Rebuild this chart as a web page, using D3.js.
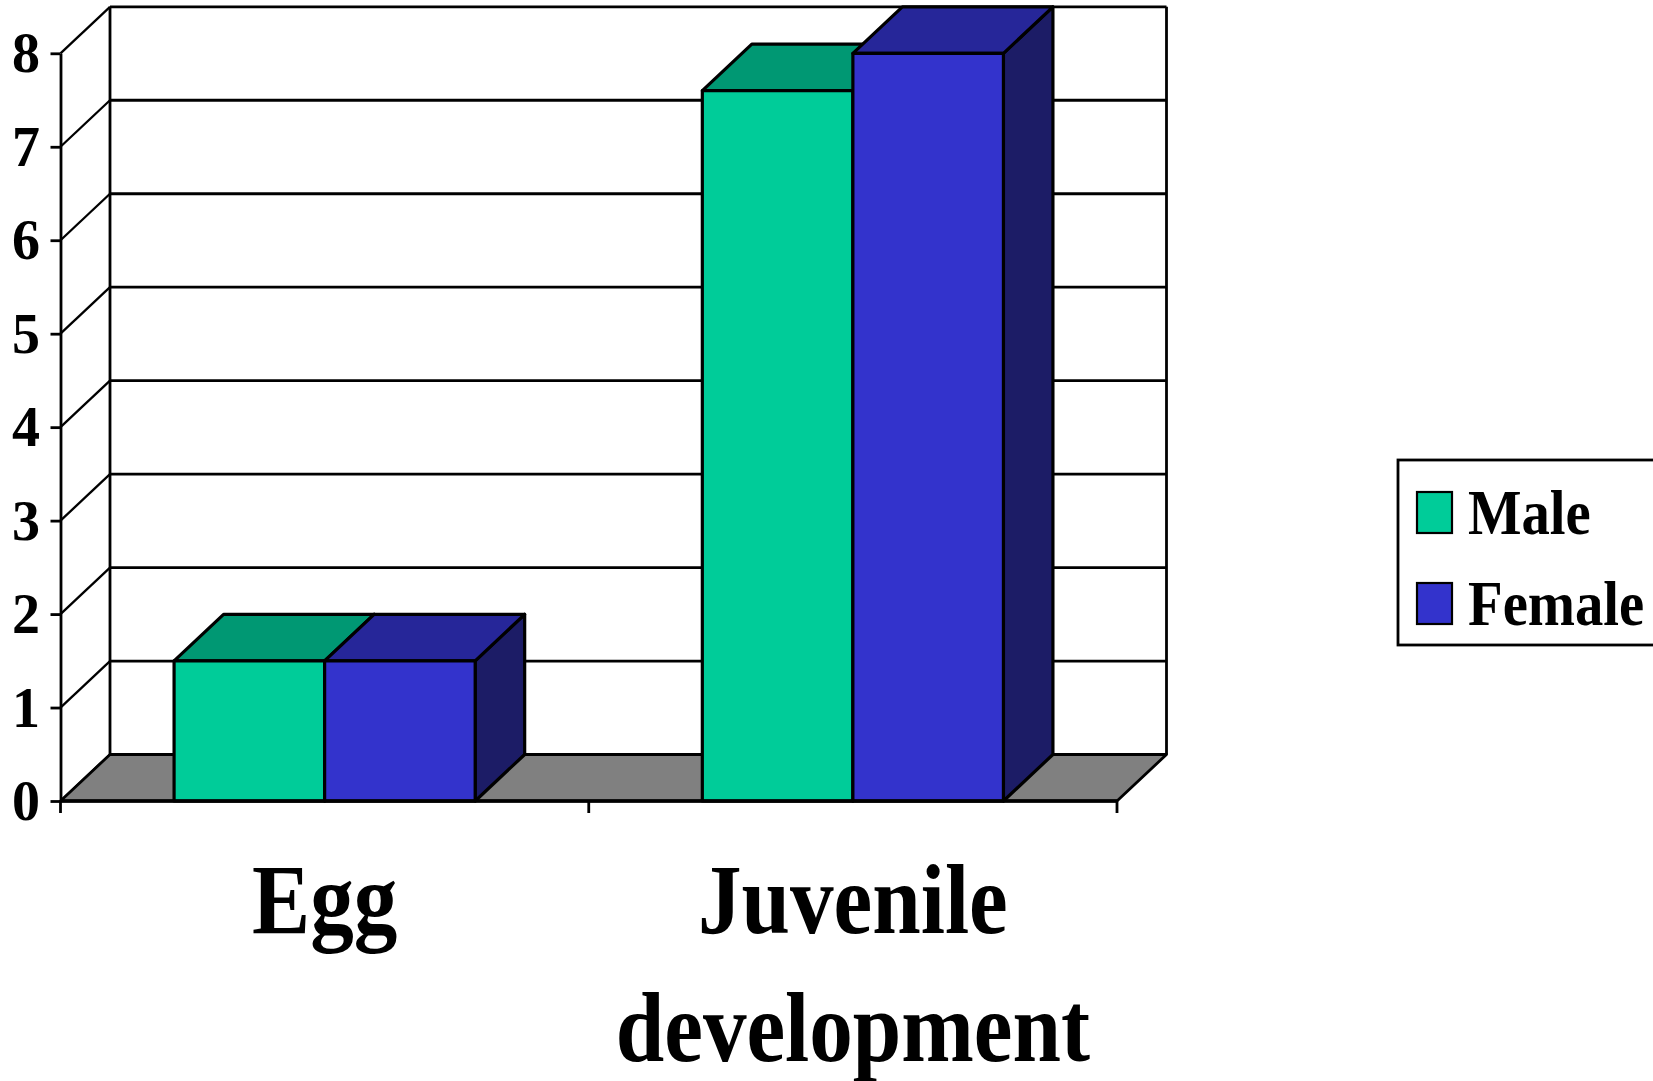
<!DOCTYPE html>
<html>
<head>
<meta charset="utf-8">
<script src="https://cdn.jsdelivr.net/npm/d3@7"></script>
<style>
  body { margin: 0; background: #fff; }
  text { font-family: "Liberation Serif", "Times New Roman", serif; font-weight: bold; }
</style>
</head>
<body>
<svg id="chart"></svg>
<script>
// data
var categories = ["Egg", "Juvenile development"];
var series = ["Male", "Female"];
var male = [1.5, 7.6];
var female = [1.5, 8.0];
var yTicks = [0, 1, 2, 3, 4, 5, 6, 7, 8];

// colours: front, top, side
var colors = {
  Male: ["#00cc99", "#009873", "#006a50"],
  Female: ["#3333cc", "#262699", "#1c1c66"]
};

// parameters
var width = 1653;
var height = 1081;
var depthX = 49.5;
var depthY = 46.5;

var svg = d3.select("#chart").attr("width", width).attr("height", height);

var y = d3.scaleLinear().domain([0, 8]).range([801, 53.3]);
var x0 = d3.scaleBand().domain(categories).range([60.5, 1117])
  .paddingInner(0.43).paddingOuter(0.215);
var x1 = d3.scaleBand().domain(series).range([0, x0.bandwidth()]);

var left = x0.range()[0];
var right = x0.range()[1];

// back wall grid lines
yTicks.forEach(function (t) {
  var yf = y(t);
  if (t > 0) {
    svg.append("line")
      .attr("x1", left + depthX).attr("y1", yf - depthY)
      .attr("x2", right + depthX).attr("y2", yf - depthY)
      .attr("stroke", "#000").attr("stroke-width", 2.8);
  }
  // side wall diagonals
  svg.append("line")
    .attr("x1", left).attr("y1", yf)
    .attr("x2", left + depthX).attr("y2", yf - depthY)
    .attr("stroke", "#000").attr("stroke-width", 2.3);
});

// wall edges
[left + depthX, right + depthX].forEach(function (xx) {
  svg.append("line")
    .attr("x1", xx).attr("y1", y(8) - depthY)
    .attr("x2", xx).attr("y2", y(0) - depthY)
    .attr("stroke", "#000").attr("stroke-width", 2.8);
});

// floor
var floor = [[left, y(0)], [left + depthX, y(0) - depthY], [right + depthX, y(0) - depthY], [right, y(0)]];
svg.append("path")
  .attr("d", d3.line()(floor) + "Z")
  .attr("fill", "#808080")
  .attr("stroke", "#000")
  .attr("stroke-width", 2.8)
  .attr("stroke-linejoin", "round");

// bars
categories.forEach(function (c, i) {
  var vals = { Male: male[i], Female: female[i] };
  series.forEach(function (s) {
    var bx = x0(c) + x1(s);
    var bw = x1.bandwidth();
    var top = y(vals[s]);
    var bottom = y(0);
    var g = svg.append("g")
      .attr("stroke", "#000")
      .attr("stroke-width", 3.2)
      .attr("stroke-linejoin", "round");

    // side
    g.append("path")
      .attr("d", d3.line()([[bx + bw, top], [bx + bw + depthX, top - depthY],
        [bx + bw + depthX, bottom - depthY], [bx + bw, bottom]]) + "Z")
      .attr("fill", colors[s][2]);
    // top
    g.append("path")
      .attr("d", d3.line()([[bx, top], [bx + depthX, top - depthY],
        [bx + bw + depthX, top - depthY], [bx + bw, top]]) + "Z")
      .attr("fill", colors[s][1]);
    // front
    g.append("rect")
      .attr("x", bx).attr("y", top)
      .attr("width", bw).attr("height", bottom - top)
      .attr("fill", colors[s][0]);
  });
});

// front base line
svg.append("line")
  .attr("x1", left).attr("y1", y(0))
  .attr("x2", right).attr("y2", y(0))
  .attr("stroke", "#000").attr("stroke-width", 3.5);

// category ticks at band edges
var edges = [left, left + x0.step(), right];
edges.forEach(function (e) {
  svg.append("line")
    .attr("x1", e).attr("y1", y(0))
    .attr("x2", e).attr("y2", y(0) + 12)
    .attr("stroke", "#000").attr("stroke-width", 2.8);
});

// y axis
var yAxis = svg.append("g")
  .attr("transform", "translate(" + left + ",0)")
  .call(d3.axisLeft(y).tickValues(yTicks).tickSize(10).tickSizeOuter(0).tickPadding(10.5));
yAxis.select(".domain").attr("stroke", "#000").attr("stroke-width", 2.8);
yAxis.selectAll(".tick line").attr("stroke", "#000").attr("stroke-width", 2.8);
yAxis.selectAll(".tick text")
  .attr("font-size", 56)
  .attr("dy", "0.33em")
  .attr("font-family", "'Liberation Serif', 'Times New Roman', serif")
  .attr("font-weight", "bold")
  .attr("fill", "#000");

// category labels
categories.forEach(function (c) {
  var cx = x0(c) + x0.bandwidth() / 2;
  c.split(" ").forEach(function (word, k) {
    svg.append("text")
      .attr("transform", "translate(" + cx + "," + (933 + k * 128) + ") scale(0.88,1)")
      .attr("text-anchor", "middle")
      .attr("font-size", 99)
      .text(word);
  });
});

// legend
var legend = svg.append("g").attr("transform", "translate(1398,460)");
legend.append("rect")
  .attr("x", 0).attr("y", 0)
  .attr("width", 280).attr("height", 185)
  .attr("fill", "#fff").attr("stroke", "#000").attr("stroke-width", 2.8);

series.forEach(function (s, i) {
  var row = legend.append("g").attr("transform", "translate(0," + (32 + i * 91) + ")");
  row.append("rect")
    .attr("x", 19).attr("y", 0)
    .attr("width", 35).attr("height", 41)
    .attr("fill", colors[s][0])
    .attr("stroke", "#000").attr("stroke-width", 2.2);
  row.append("text")
    .attr("transform", "translate(70,42) scale(0.9,1)")
    .attr("font-size", 63)
    .text(s);
});
</script>
</body>
</html>
